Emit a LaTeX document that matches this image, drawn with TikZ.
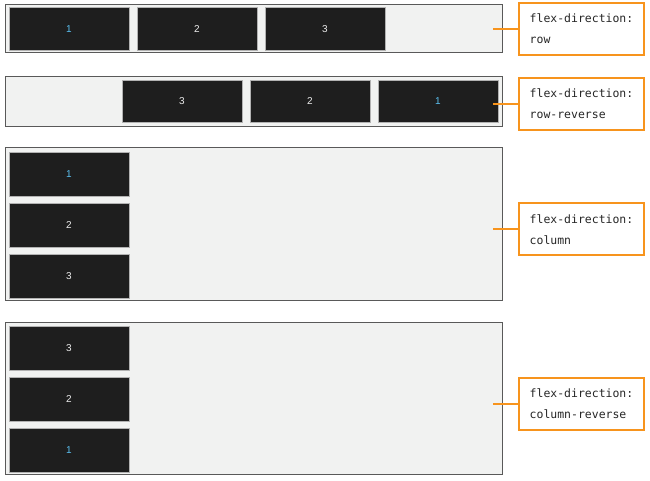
\documentclass[tikz,border=0pt]{standalone}
\usepackage{fontspec}
\setsansfont{Liberation Sans}
\setmonofont{DejaVu Sans Mono}
\definecolor{flexorange}{HTML}{F7941D}
\definecolor{flexbg}{HTML}{F1F2F1}
\definecolor{itemdark}{HTML}{1E1E1E}
\definecolor{numblue}{HTML}{5BC0F0}
\tikzset{
  container/.style={draw=gray!70!black, line width=0.75pt, fill=flexbg, minimum width=372.75pt, inner sep=0pt},
  item/.style={draw=gray!60, line width=0.5pt, fill=itemdark, minimum width=90pt, inner sep=0pt, font=\sffamily\fontsize{7.5}{8}\selectfont, text=gray!15},
  rowitem/.style={item, minimum height=32pt},
  colitem/.style={item, minimum height=33pt},
  label/.style={draw=flexorange, line width=1.5pt, fill=white, minimum width=93.75pt, minimum height=39pt, align=left, inner sep=0pt, font=\ttfamily\fontsize{8.6}{15.75}\selectfont, text=black!85},
  link/.style={draw=flexorange, line width=1.5pt}
}
\begin{document}
\begin{tikzpicture}[x=0.75pt, y=-0.75pt]

\useasboundingbox (0,0) rectangle (650,481);

%row
\node[container, minimum height=36pt] (row) at (253.5,29) {};
\node[rowitem, text=numblue] (r1) at (69,29) {1};
\node[rowitem] (r2) at (197,29) {2};
\node[rowitem] (r3) at (325,29) {3};

%row-reverse
\node[container, minimum height=37.5pt] (rrev) at (253.5,102) {};
\node[rowitem] (rr3) at (182,101.5) {3};
\node[rowitem] (rr2) at (310,101.5) {2};
\node[rowitem, text=numblue] (rr1) at (438,101.5) {1};

%column
\node[container, minimum height=114pt] (col) at (253.5,224) {};
\node[colitem, text=numblue] (c1) at (69,174) {1};
\node[colitem] (c2) at (69,225) {2};
\node[colitem] (c3) at (69,276) {3};

%column-reverse
\node[container, minimum height=114pt] (crev) at (253.5,398) {};
\node[colitem] (cr3) at (69,348) {3};
\node[colitem] (cr2) at (69,399) {2};
\node[colitem, text=numblue] (cr1) at (69,450) {1};

%labels
\node[label] (lrow) at (581.5,29) {flex-direction:\\row};
\node[label] (lrrev) at (581.5,104) {flex-direction:\\row-reverse};
\node[label] (lcol) at (581.5,229.5) {flex-direction:\\column};
\node[label] (lcrev) at (581.5,404) {flex-direction:\\column-reverse};

\coordinate (prow) at (493,29);
\coordinate (prrev) at (493,104);
\coordinate (pcol) at (493,229.5);
\coordinate (pcrev) at (493,404);

\draw[link] (prow) -- (lrow.west);
\draw[link] (prrev) -- (lrrev.west);
\draw[link] (pcol) -- (lcol.west);
\draw[link] (pcrev) -- (lcrev.west);

\end{tikzpicture}
\end{document}
